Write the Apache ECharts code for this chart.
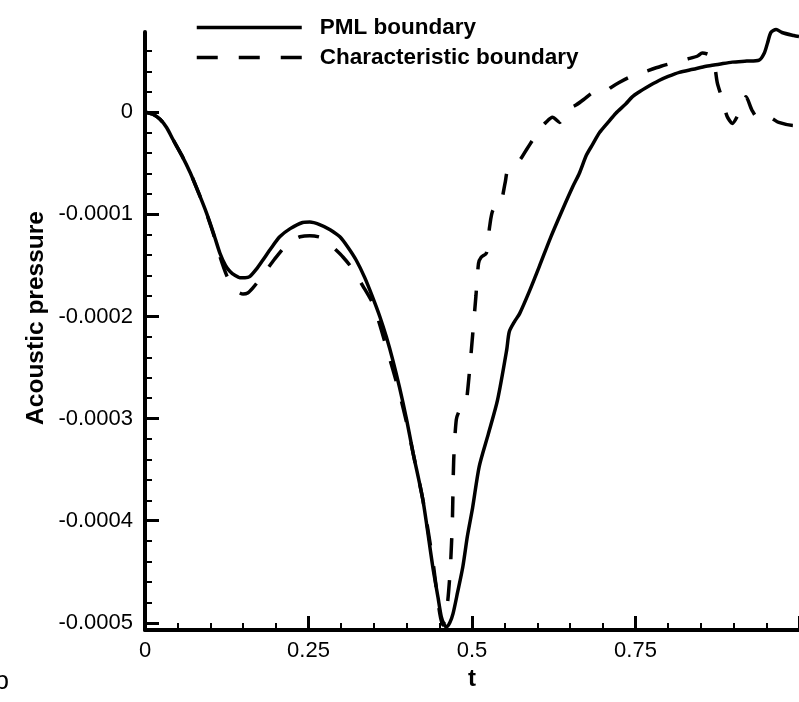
<!DOCTYPE html>
<html>
<head>
<meta charset="utf-8">
<script src="https://cdn.jsdelivr.net/npm/echarts@6/dist/echarts.min.js"></script>
<style>
html,body{margin:0;padding:0;background:#fff;}
#chart{width:799px;height:702px;}
</style>
</head>
<body>
<div id="chart"></div>
<script>
// ---- data (t, acoustic pressure in units of 1e-4) ----
var seriesNames = ['PML boundary', 'Characteristic boundary'];
var tPml = [0.000,0.012,0.023,0.033,0.043,0.056,0.069,0.082,0.094,0.105,0.1145,0.123,0.130,0.138,0.145,0.153,0.160,0.170,0.180,0.193,0.206,0.222,0.241,0.252,0.267,0.283,0.298,0.310,0.323,0.336,0.348,0.359,0.369,0.379,0.389,0.400,0.410,0.425,0.440,0.448,0.453,0.457,0.461,0.466,0.471,0.478,0.486,0.493,0.501,0.511,0.525,0.539,0.553,0.557,0.565,0.573,0.588,0.603,0.620,0.638,0.654,0.664,0.675,0.684,0.695,0.708,0.720,0.735,0.745,0.756,0.766,0.786,0.800,0.817,0.838,0.858,0.878,0.898,0.920,0.939,0.947,0.952,0.957,0.965,0.974,0.992,1.000];
var pPml = [0.00,-0.02,-0.07,-0.15,-0.27,-0.42,-0.59,-0.79,-0.985,-1.19,-1.38,-1.50,-1.56,-1.60,-1.62,-1.62,-1.61,-1.54,-1.45,-1.33,-1.22,-1.14,-1.08,-1.075,-1.10,-1.15,-1.22,-1.32,-1.45,-1.62,-1.81,-2.00,-2.20,-2.43,-2.69,-3.01,-3.34,-3.80,-4.45,-4.75,-4.94,-5.01,-5.04,-5.00,-4.91,-4.70,-4.45,-4.15,-3.87,-3.47,-3.15,-2.82,-2.33,-2.15,-2.05,-1.97,-1.75,-1.51,-1.23,-0.96,-0.73,-0.60,-0.42,-0.32,-0.20,-0.10,-0.01,0.08,0.15,0.20,0.24,0.31,0.35,0.39,0.42,0.45,0.47,0.49,0.50,0.51,0.58,0.68,0.78,0.81,0.78,0.75,0.74];
var tChar = [0.000,0.012,0.023,0.033,0.043,0.056,0.069,0.082,0.094,0.105,0.115,0.125,0.134,0.142,0.150,0.157,0.165,0.175,0.183,0.198,0.216,0.227,0.237,0.252,0.270,0.287,0.303,0.318,0.333,0.348,0.359,0.369,0.379,0.389,0.400,0.410,0.425,0.440,0.450,0.455,0.459,0.463,0.467,0.470,0.472,0.476,0.481,0.487,0.491,0.496,0.501,0.506,0.510,0.514,0.522,0.527,0.532,0.542,0.551,0.554,0.563,0.573,0.583,0.593,0.603,0.613,0.623,0.634,0.645,0.659,0.672,0.684,0.695,0.700,0.712,0.725,0.740,0.753,0.766,0.789,0.812,0.829,0.845,0.852,0.863,0.870,0.875,0.882,0.890,0.898,0.908,0.919,0.928,0.939,0.954,0.969,0.992,1.000];
var pChar = [0.00,-0.02,-0.07,-0.15,-0.27,-0.42,-0.59,-0.79,-0.99,-1.20,-1.42,-1.60,-1.71,-1.76,-1.78,-1.77,-1.72,-1.64,-1.57,-1.44,-1.30,-1.25,-1.22,-1.21,-1.23,-1.32,-1.42,-1.54,-1.70,-1.87,-2.08,-2.30,-2.52,-2.75,-3.04,-3.34,-3.80,-4.39,-4.88,-5.02,-4.95,-4.78,-4.45,-4.00,-3.41,-3.01,-2.92,-2.90,-2.85,-2.55,-2.18,-1.80,-1.48,-1.42,-1.38,-1.12,-0.96,-0.94,-0.68,-0.58,-0.52,-0.47,-0.37,-0.27,-0.17,-0.10,-0.05,-0.10,0.02,0.07,0.13,0.19,0.20,0.19,0.24,0.29,0.34,0.37,0.40,0.45,0.49,0.52,0.55,0.58,0.56,0.49,0.29,0.14,-0.04,-0.11,-0.01,0.15,0.02,-0.07,-0.05,-0.10,-0.13,-0.13];
var yMajorTicks = [-0.0005,-0.0004,-0.0003,-0.0002,-0.0001,0];
var yMinorTicks = [-0.00048,-0.00046,-0.00044,-0.00042,-0.00038,-0.00036,-0.00034,-0.00032,-0.00028,-0.00026,-0.00024,-0.00022,-0.00018,-0.00016,-0.00014,-0.00012,-0.00008,-0.00006,-0.00004,-0.00002,0.00002,0.00004,0.00006];
var xTickLabels = [0, 0.25, 0.5, 0.75];
var xTitle = 't';
var yTitle = 'Acoustic pressure';
var SCALE = 1e-4;

function pairs(ts, ps) {
  var out = [];
  for (var i = 0; i < ts.length; i++) out.push([ts[i], ps[i] * SCALE]);
  return out;
}

var FONT = '"Liberation Sans", Arial, Helvetica, sans-serif';
var chart = echarts.init(document.getElementById('chart'), null, {renderer: 'canvas'});
var YMIN = -0.000507, YMAX = 0.0000785;

chart.setOption({
  animation: false,
  backgroundColor: '#ffffff',
  grid: {left: 145, top: 32, width: 655, height: 598, containLabel: false},
  legend: {
    orient: 'vertical',
    left: 195,
    top: 16,
    padding: 0,
    itemWidth: 105,
    itemHeight: 22,
    itemGap: 7,
    data: seriesNames,
    lineStyle: {width: 3.5},
    itemStyle: {color: 'rgba(0,0,0,0)', borderColor: 'rgba(0,0,0,0)', borderWidth: 0, opacity: 0},
    textStyle: {fontFamily: FONT, fontWeight: 'bold', fontSize: 22.5, color: '#000', lineHeight: 22, padding: [0, 0, 0, 13]}
  },
  xAxis: {
    type: 'value',
    min: 0, max: 1, interval: 0.25,
    name: xTitle,
    nameLocation: 'middle',
    nameGap: 33,
    nameTextStyle: {fontFamily: FONT, fontWeight: 'bold', fontSize: 24, color: '#000'},
    axisLine: {show: true, onZero: false, lineStyle: {color: '#000', width: 4}},
    axisTick: {show: true, inside: true, length: 14, lineStyle: {color: '#000', width: 3}},
    minorTick: {show: true, splitNumber: 5, length: 7, lineStyle: {color: '#000', width: 2}},
    axisLabel: {
      fontFamily: FONT, fontSize: 22, color: '#000', margin: 10,
      customValues: xTickLabels
    },
    splitLine: {show: false}
  },
  yAxis: [{
    type: 'value',
    min: YMIN, max: YMAX,
    position: 'left',
    axisLine: {show: true, onZero: false, lineStyle: {color: '#000', width: 4}},
    axisTick: {show: true, inside: true, length: 14, lineStyle: {color: '#000', width: 3}, customValues: yMajorTicks},
    axisLabel: {fontFamily: FONT, fontSize: 22, color: '#000', margin: 12, customValues: yMajorTicks},
    splitLine: {show: false}
  }, {
    type: 'value',
    min: YMIN, max: YMAX,
    position: 'left',
    offset: 0,
    axisLine: {show: false, onZero: false},
    axisTick: {show: true, inside: true, length: 7, lineStyle: {color: '#000', width: 2}, customValues: yMinorTicks},
    axisLabel: {show: false, customValues: yMinorTicks},
    splitLine: {show: false}
  }],
  graphic: [{
    type: 'text',
    x: 36, y: 318,
    rotation: Math.PI / 2,
    style: {text: yTitle, fontFamily: FONT, fontWeight: 'bold', fontSize: 24.5, fill: '#000', align: 'center', verticalAlign: 'middle'}
  }, {
    type: 'text',
    x: -5.5, y: 682,
    style: {text: 'b', fontFamily: FONT, fontSize: 26, fill: '#000', align: 'left', verticalAlign: 'middle'}
  }],
  series: [{
    name: seriesNames[0],
    type: 'line',
    yAxisIndex: 0,
    data: pairs(tPml, pPml),
    symbol: 'none',
    smooth: 0.25,
    clip: false,
    lineStyle: {color: '#000', width: 3.5, type: 'solid'},
    itemStyle: {color: '#000'}
  }, {
    name: seriesNames[1],
    type: 'line',
    yAxisIndex: 0,
    data: pairs(tChar, pChar),
    symbol: 'none',
    smooth: 0.25,
    clip: false,
    lineStyle: {color: '#000', width: 3.5, type: [21, 21]},
    itemStyle: {color: '#000'}
  }]
});
</script>
</body>
</html>
